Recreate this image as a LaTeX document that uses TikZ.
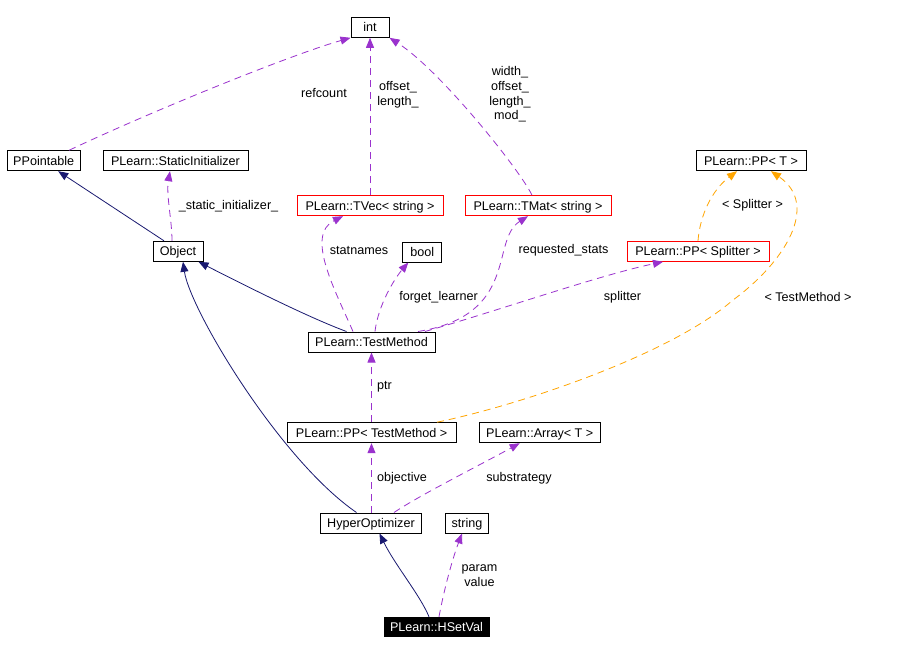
\documentclass[tikz,border=0pt]{standalone}
\usepackage{fontspec}
\setmainfont{Liberation Sans}
\usetikzlibrary{arrows.meta}
\definecolor{edgepurple}{RGB}{154,50,205}
\definecolor{edgenavy}{RGB}{25,25,112}
\definecolor{edgeorange}{RGB}{255,165,0}
\tikzset{
  cls/.style={draw=black, line width=1pt, inner sep=0pt, minimum height=20pt,
    text height=11pt, text depth=2pt,
    font=\fontsize{12.6}{15}\selectfont, text=black},
  clsred/.style={cls, draw=red},
  clsmain/.style={cls, draw=black, fill=black, text=white, minimum height=19.5pt},
  lbl/.style={inner sep=0pt, font=\fontsize{12.6}{14.7}\selectfont, align=center, text=black},
  usage/.style={draw=edgepurple, line width=0.8pt, dash pattern=on 7pt off 5pt,
    -{Triangle[length=10pt,width=8pt,fill=edgepurple]}},
  inherit/.style={draw=edgenavy, line width=0.8pt,
    -{Triangle[length=10pt,width=8pt,fill=edgenavy]}},
  templ/.style={draw=edgeorange, line width=0.8pt, dash pattern=on 7pt off 5pt,
    -{Triangle[length=10pt,width=8pt,fill=edgeorange]}},
}
\begin{document}
\begin{tikzpicture}[x=1pt,y=-1pt]
\useasboundingbox[fill=white] (0,0) rectangle (914,654);

% nodes
\node[cls, minimum width=38pt] (int) at (370,27.3) {int};
\node[cls, minimum width=73pt] (ppt) at (43.7,160.7) {PPointable};
\node[cls, minimum width=145pt] (si) at (175.5,160.7) {PLearn::StaticInitializer};
\node[cls, minimum width=110pt] (ppT) at (751,160.7) {PLearn::PP< T >};
\node[clsred, minimum width=146pt] (tvec) at (370,205.7) {PLearn::TVec< string >};
\node[clsred, minimum width=146pt] (tmat) at (538,205.7) {PLearn::TMat< string >};
\node[cls, minimum width=50pt] (obj) at (178,251.3) {Object};
\node[cls, minimum width=39pt] (bool) at (422.3,252) {bool};
\node[clsred, minimum width=142pt] (pps) at (698,251.3) {PLearn::PP< Splitter >};
\node[cls, minimum width=127pt] (tm) at (371.5,342) {PLearn::TestMethod};
\node[cls, minimum width=169pt] (pptm) at (371.5,432.7) {PLearn::PP< TestMethod >};
\node[cls, minimum width=121pt] (arr) at (539.7,432.7) {PLearn::Array< T >};
\node[cls, minimum width=101.5pt] (ho) at (371,523) {HyperOptimizer};
\node[cls, minimum width=43.5pt] (str) at (467,523) {string};
\node[clsmain, minimum width=105pt] (hs) at (436.5,627) {PLearn::HSetVal};

% edges
\draw[usage] ([xshift=25.5pt]ppt.north) .. controls (150,112) and (290,55) .. (int.south west);
\node[lbl] (l1) at (324,93) {refcount};

\draw[usage] (tvec.north) -- (int.south);
\node[lbl] (l2) at (398,94.5) {offset\_\\length\_};

\draw[usage] ([xshift=-6pt]tmat.north) .. controls (520,170) and (440,70) .. (int.south east);
\node[lbl] (l3) at (510,94.5) {width\_\\offset\_\\length\_\\mod\_};

\draw[inherit] ([xshift=-14pt]obj.north) -- ([xshift=14.5pt]ppt.south);

\draw[usage] ([xshift=-6pt]obj.north) .. controls (172,220) and (166,195) .. ([xshift=-5.5pt]si.south);
\node[lbl] (l4) at (228.5,206) {\_static\_initializer\_};

\draw[inherit] ([xshift=-25pt]tm.north) .. controls (310,318) and (250,288) .. ([xshift=-5pt]obj.south east);

\draw[inherit] ([xshift=-14.5pt]ho.north) .. controls (280,460) and (190,310) .. ([xshift=5pt]obj.south);

\draw[usage] ([xshift=-18.5pt]tm.north) .. controls (335,290) and (305,235) .. ([xshift=-27pt]tvec.south);
\node[lbl] (l5) at (359,250) {statnames};

\draw[usage] ([xshift=3.5pt]tm.north) .. controls (378,305) and (395,278) .. ([xshift=-14pt]bool.south);
\node[lbl] (l6) at (438.5,297) {forget\_learner};

\draw[usage] ([xshift=46.5pt]tm.north) .. controls (520,315) and (490,240) .. ([xshift=-10pt]tmat.south);
\node[lbl] (l7) at (563.5,250) {requested\_stats};

\draw[usage] ([xshift=53.5pt]tm.north) .. controls (500,310) and (600,275) .. ([xshift=-35pt]pps.south);
\node[lbl] (l8) at (622.5,297) {splitter};

\draw[templ] (pps.north) .. controls (700,215) and (712,190) .. ([xshift=-14pt]ppT.south);
\node[lbl] (l9) at (752.5,205) {< Splitter >};

\coordinate (bend) at (733,300);
\draw[templ] ([xshift=65.5pt]pptm.north) .. controls (520,405) and (670,355) .. (bend)
  .. controls (785,262) and (820,205) .. ([xshift=20pt]ppT.south);
\node[lbl] (l10) at (808,297) {< TestMethod >};

\draw[usage] (pptm.north) -- (tm.south);
\node[lbl] (l11) at (384.5,387) {ptr};

\draw[usage] (pptm.south |- ho.north) -- (pptm.south);
\node[lbl] (l12) at (402,478) {objective};

\draw[usage] ([xshift=23pt]ho.north) .. controls (420,495) and (480,465) .. ([xshift=-20pt]arr.south);
\node[lbl] (l13) at (519,478) {substrategy};

\draw[inherit] ([xshift=-7.5pt]hs.north) .. controls (420,595) and (395,565) .. ([xshift=8.5pt]ho.south);

\draw[usage] ([xshift=2.5pt]hs.north) .. controls (444,590) and (452,560) .. ([xshift=-5pt]str.south);
\node[lbl] (l14) at (479.5,576) {param\\value};
\end{tikzpicture}
\end{document}
